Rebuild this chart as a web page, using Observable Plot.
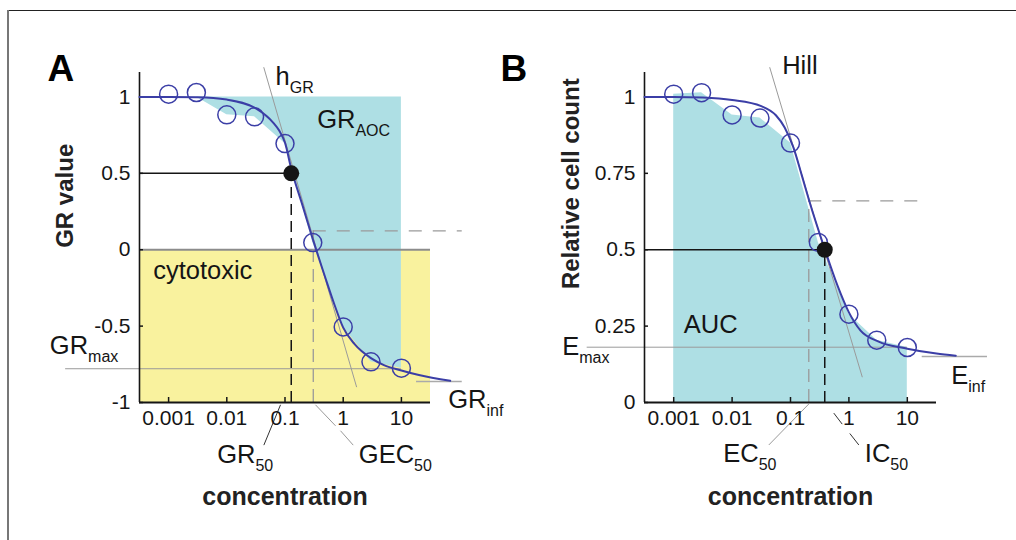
<!DOCTYPE html>
<html><head><meta charset="utf-8">
<script src="https://cdn.jsdelivr.net/npm/d3@7"></script>
<script src="https://cdn.jsdelivr.net/npm/@observablehq/plot@0.6"></script>
<style>
body{margin:0;background:#fff;font-family:"Liberation Sans",Arial,sans-serif;}
#wrap{position:relative;width:1016px;height:540px;overflow:hidden;background:#fff}
#topline{position:absolute;left:8px;top:10px;width:1008px;height:0;border-top:1.5px solid #222}
#leftline{position:absolute;left:7px;top:10px;width:0;height:530px;border-left:2px solid #777}
.panel{position:absolute;top:0;width:508px;height:540px}
</style></head><body>
<div id="wrap"><div id="topline"></div><div id="leftline"></div>
<div id="pa" class="panel" style="left:0"></div>
<div id="pb" class="panel" style="left:508px"></div></div>
<script>
// ---------- data ----------
const concentration = [0.001, 0.003, 0.01, 0.03, 0.1, 0.3, 1, 3, 10];
const grValue       = [1.018, 1.029, 0.883, 0.870, 0.695, 0.047, -0.505, -0.734, -0.775];
const relCellCount  = [1.009, 1.014, 0.941, 0.931, 0.849, 0.524, 0.289, 0.204, 0.180];

// fitted curves
const fitConcA = [0.000316, 0.001, 0.00316, 0.01, 0.0316, 0.0631, 0.0794, 0.1, 0.128, 0.2, 0.3, 0.5, 0.708, 1, 1.585, 3, 5.01, 10, 20, 69];
const fitGR    = [1.0, 1.0, 0.998, 0.983, 0.925, 0.83, 0.78, 0.70, 0.53, 0.29, 0.07, -0.19, -0.36, -0.51, -0.62, -0.71, -0.755, -0.79, -0.82, -0.858];
const fitConcB = [0.000316, 0.001, 0.00316, 0.01, 0.0316, 0.0562, 0.0794, 0.112, 0.158, 0.209, 0.389, 0.631, 1, 1.585, 3.16, 10, 31.6, 67.6];
const fitRel   = [1.0, 1.0, 0.998, 0.99, 0.97, 0.94, 0.9, 0.835, 0.74, 0.66, 0.5, 0.385, 0.295, 0.235, 0.2, 0.176, 0.16, 0.153];

// metrics
const GR50 = 0.128, GEC50 = 0.306, GEC50Level = 0.124, GRmax = -0.779, GRinf = -0.863;
const IC50 = 0.386, EC50 = 0.2056, EC50Level = 0.66, Emax = 0.181, Einf = 0.1505;

// ticks
const xTickValues = [0.001, 0.01, 0.1, 1, 10];
const xTickLabels = ["0.001", "0.01", "0.1", "1", "10"];
const yTicksA = [-1, -0.5, 0, 0.5, 1];
const yLabelsA = ["-1", "-0.5", "0", "0.5", "1"];
const yTicksB = [0, 0.25, 0.5, 0.75, 1];
const yLabelsB = ["0", "0.25", "0.5", "0.75", "1"];

// ---------- styling ----------
const FONT = "'Liberation Sans', Arial, sans-serif";
const blue = "#3b3ea6", cyan = "#aedfe4", yellow = "#f9f29e";
const gray = "#9a9a9a", ink = "#151515";
const xDomain = [10 ** -3.5, 10 ** 1.5];
const ANN = 25.5;
const DASH_K = "11,6", DASH_V = "13,7", DASH_H = "13,11";

const ptsA = concentration.map((c, i) => ({c, v: grValue[i]}));
const ptsB = concentration.map((c, i) => ({c, v: relCellCount[i]}));
const fitA = fitConcA.map((c, i) => ({c, v: fitGR[i]}));
const fitB = fitConcB.map((c, i) => ({c, v: fitRel[i]}));

function subscripts(svg) {
  d3.select(svg).selectAll("text").each(function () {
    const m = /^(.*)_\{(.*)\}$/.exec(this.textContent);
    if (!m) return;
    const s = d3.select(this); s.text(null);
    s.append("tspan").text(m[1]);
    s.append("tspan").attr("dy", 8).attr("font-size", 16).text(m[2]);
  });
  return svg;
}
const label = (t, x, y, extra = {}) =>
  Plot.text([t], {x: () => x, y: () => y, text: d => d, textAnchor: "start", lineAnchor: "bottom", fontSize: ANN, fill: ink, ...extra});
const yTitle = (t, x, y) =>
  Plot.text([t], {x: () => x, y: () => y, text: d => d, rotate: -90, textAnchor: "middle", lineAnchor: "middle", fontSize: 24, fontWeight: "bold", fill: "#222"});

const common = (yDomain) => ({
  width: 508, height: 540, marginLeft: 0, marginRight: 0, marginTop: 72, marginBottom: 138,
  x: {type: "log", domain: xDomain, axis: null},
  y: {domain: yDomain, axis: null},
  style: {fontFamily: FONT, fontSize: "21px", background: "transparent", overflow: "visible", color: ink}
});

// ---------- Panel A ----------
const yTickLenA = 5 / 152.8;
const plotA = Plot.plot({
  ...common([-1, 1.16]), marginLeft: 139, marginRight: 78,
  marks: [
    Plot.rect([0], {x1: () => xDomain[0], x2: () => xDomain[1], y1: () => -1, y2: () => 0, fill: yellow}),
    Plot.areaY(ptsA, {x: "c", y1: () => 1, y2: d => Math.min(d.v, 1), fill: cyan}),
    Plot.ruleY([0], {stroke: "#8c8c8c", strokeWidth: 2}),
    Plot.ruleY([GRmax], {x1: () => 1.7e-5, x2: () => 10, stroke: gray, strokeWidth: 1}),
    Plot.ruleY([GRinf], {x1: () => 18.2, x2: () => 111, stroke: "#aaa", strokeWidth: 1.5}),
    Plot.line([{c: 0.0433, v: 1.192}, {c: 1.694, v: -0.897}], {x: "c", y: "v", stroke: gray, strokeWidth: 1}),
    Plot.ruleX([GEC50], {y1: () => -1, y2: () => GEC50Level, stroke: gray, strokeWidth: 1.3, strokeDasharray: DASH_V}),
    Plot.ruleY([GEC50Level], {x1: () => GEC50, x2: () => 111, stroke: gray, strokeWidth: 1.3, strokeDasharray: DASH_H}),
    Plot.ruleY([0.5], {x1: () => xDomain[0], x2: () => GR50, stroke: ink, strokeWidth: 1.5}),
    Plot.ruleX([GR50], {y1: () => -1, y2: () => 0.5, stroke: ink, strokeWidth: 1.5, strokeDasharray: DASH_K}),
    Plot.link([
      {x1: 0.0838, y1: -1.015, x2: 0.0433, y2: -1.279, s: "#333"},
      {x1: 0.334, y1: -1.015, x2: 0.738, y2: -1.1525, s: gray},
      {x1: 0.899, y1: -1.185, x2: 1.486, y2: -1.279, s: gray}
    ], {x1: "x1", y1: "y1", x2: "x2", y2: "y2", stroke: "s", strokeWidth: 1}),
    Plot.ruleX([xDomain[0]], {stroke: ink, strokeWidth: 1.6}),
    Plot.ruleY([-1], {stroke: ink, strokeWidth: 2}),
    Plot.ruleX(xTickValues, {x: d => d, y1: () => -1, y2: () => -1 + yTickLenA, stroke: ink, strokeWidth: 1.5}),
    Plot.ruleY(yTicksA, {y: d => d, x1: () => xDomain[0], x2: () => 10 ** (-3.5 + 4 / 58.2), stroke: ink, strokeWidth: 1.5}),
    Plot.axisX({ticks: xTickValues, tickFormat: d => xTickLabels[xTickValues.indexOf(d)], tickSize: 0, tickPadding: 8, label: null}),
    Plot.axisY({ticks: yTicksA, tickFormat: d => yLabelsA[yTicksA.indexOf(d)], tickSize: 0, tickPadding: 9, label: null}),
    Plot.line(fitA, {x: "c", y: "v", stroke: blue, strokeWidth: 2, curve: "monotone-x"}),
    Plot.dot(ptsA, {x: "c", y: "v", r: 9, stroke: blue, strokeWidth: 1.5, fill: "none"}),
    Plot.dot([{c: GR50, v: 0.5}], {x: "c", y: "v", r: 8, fill: ink}),
    label("h_{GR}", 0.0687, 1.077),
    label("GR_{AOC}", 0.357, 0.8),
    label("cytotoxic", 0.000543, -0.192),
    label("GR_{max}", 9.1e-6, -0.683),
    label("GR_{inf}", 63.7, -1.033),
    label("GR_{50}", 0.00684, -1.393),
    label("GEC_{50}", 1.853, -1.393),
    Plot.text(["A"], {frameAnchor: "top-left", dx: -92, dy: 8, text: d => d, textAnchor: "start", lineAnchor: "bottom", fontSize: 37, fontWeight: "bold", fill: "#000"}),
    yTitle("GR value", 1.69e-5, 0.353),
    Plot.text(["concentration"], {frameAnchor: "bottom", dy: 102, text: d => d, lineAnchor: "bottom", fontSize: 25, fontWeight: "bold", fill: "#222"})
  ]
});
document.getElementById("pa").appendChild(subscripts(plotA));

// ---------- Panel B ----------
const yTickLenB = 5 / 305.6;
const plotB = Plot.plot({
  ...common([0, 1.08]), marginLeft: 136, marginRight: 80,
  marks: [
    Plot.areaY(ptsB, {x: "c", y: "v", fill: cyan}),
    Plot.ruleY([Emax], {x1: () => 3.3e-5, x2: () => 10, stroke: gray, strokeWidth: 1}),
    Plot.ruleY([Einf], {x1: () => 18, x2: () => 236, stroke: "#aaa", strokeWidth: 1.5}),
    Plot.line([{c: 0.0442, v: 1.096}, {c: 1.69, v: 0.084}], {x: "c", y: "v", stroke: gray, strokeWidth: 1}),
    Plot.ruleX([EC50], {y1: () => 0, y2: () => EC50Level, stroke: gray, strokeWidth: 1.3, strokeDasharray: DASH_V}),
    Plot.ruleY([EC50Level], {x1: () => EC50, x2: () => 23.1, stroke: gray, strokeWidth: 1.3, strokeDasharray: DASH_H}),
    Plot.ruleY([0.5], {x1: () => xDomain[0], x2: () => IC50, stroke: ink, strokeWidth: 1.5}),
    Plot.ruleX([IC50], {y1: () => 0, y2: () => 0.5, stroke: ink, strokeWidth: 1.5, strokeDasharray: DASH_K}),
    Plot.link([
      {x1: 0.2056, y1: -0.005, x2: 0.0425, y2: -0.139, s: gray},
      {x1: 0.551, y1: -0.0347, x2: 0.767, y2: -0.0707, s: "#333"},
      {x1: 1.036, y1: -0.1014, x2: 1.479, y2: -0.139, s: "#333"}
    ], {x1: "x1", y1: "y1", x2: "x2", y2: "y2", stroke: "s", strokeWidth: 1}),
    Plot.ruleX([xDomain[0]], {stroke: ink, strokeWidth: 1.6}),
    Plot.ruleY([0], {stroke: ink, strokeWidth: 2}),
    Plot.ruleX(xTickValues, {x: d => d, y1: () => 0, y2: () => yTickLenB, stroke: ink, strokeWidth: 1.5}),
    Plot.ruleY(yTicksB, {y: d => d, x1: () => xDomain[0], x2: () => 10 ** (-3.5 + 4 / 58.4), stroke: ink, strokeWidth: 1.5}),
    Plot.axisX({ticks: xTickValues, tickFormat: d => xTickLabels[xTickValues.indexOf(d)], tickSize: 0, tickPadding: 8, label: null}),
    Plot.axisY({ticks: yTicksB, tickFormat: d => yLabelsB[yTicksB.indexOf(d)], tickSize: 0, tickPadding: 9, label: null}),
    Plot.line(fitB, {x: "c", y: "v", stroke: blue, strokeWidth: 2, curve: "monotone-x"}),
    Plot.dot(ptsB, {x: "c", y: "v", r: 9, stroke: blue, strokeWidth: 1.5, fill: "none"}),
    Plot.dot([{c: IC50, v: 0.5}], {x: "c", y: "v", r: 8, fill: ink}),
    label("Hill", 0.0721, 1.075),
    label("AUC", 0.00149, 0.229),
    label("E_{max}", 1.23e-5, 0.156),
    label("E_{inf}", 56.5, 0.062),
    label("EC_{50}", 0.00705, -0.196),
    label("IC_{50}", 1.872, -0.196),
    Plot.text(["B"], {frameAnchor: "top-left", dx: -144, dy: 8, text: d => d, textAnchor: "start", lineAnchor: "bottom", fontSize: 37, fontWeight: "bold", fill: "#000"}),
    yTitle("Relative cell count", 1.78e-5, 0.716),
    Plot.text(["concentration"], {frameAnchor: "bottom", dy: 102, text: d => d, lineAnchor: "bottom", fontSize: 25, fontWeight: "bold", fill: "#222"})
  ]
});
document.getElementById("pb").appendChild(subscripts(plotB));
</script>
</body></html>
